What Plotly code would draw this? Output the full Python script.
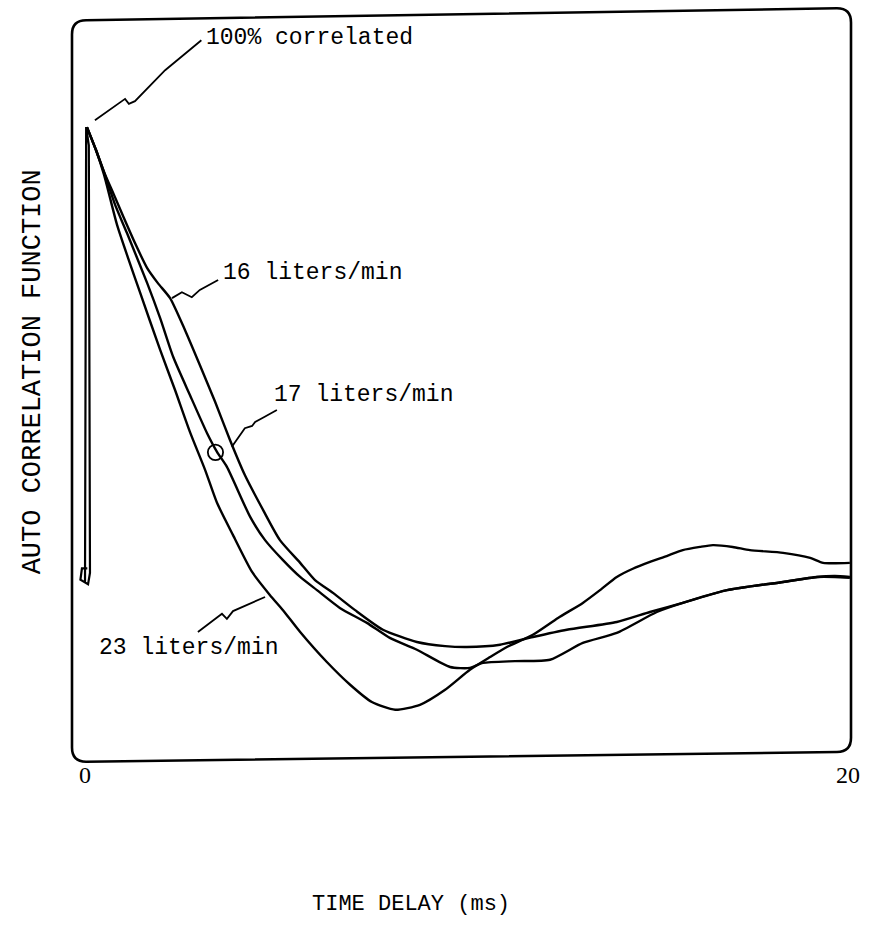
import plotly.graph_objects as go

# ---- data (time delay in ms, normalized autocorrelation) ----
x_100 = [0.0, 0.03, 0.10, 0.13, 0.08, -0.12, -0.08, 0.06]
y_100 = [0.0, 1.0, 0.96, 0.02, -0.005, 0.005, 0.03, 0.03]

x_16 = [0.05, 0.29, 0.50, 0.76, 1.02, 1.31, 1.63, 1.91, 2.23, 2.62, 3.01, 3.41, 3.80, 4.19,
        4.67, 5.11, 5.64, 6.03, 6.50, 7.08, 7.81, 8.70, 9.44, 10.01, 10.88, 11.74, 12.63,
        13.94, 14.81, 15.67, 16.83, 18.30, 19.19, 19.66, 20.05]
y_16 = [1.0, 0.949, 0.901, 0.851, 0.800, 0.745, 0.690, 0.657, 0.624, 0.554, 0.477, 0.396,
        0.312, 0.235, 0.158, 0.092, 0.042, 0.004, -0.024, -0.062, -0.105, -0.132, -0.141,
        -0.143, -0.138, -0.121, -0.105, -0.088, -0.066, -0.046, -0.018, 0.0, 0.011, 0.013, 0.011]

x_17 = [0.05, 0.29, 0.50, 0.79, 1.10, 1.63, 1.97, 2.31, 2.75, 3.20, 3.46, 3.72, 4.33, 4.72,
        5.19, 5.64, 6.08, 6.68, 7.39, 7.99, 8.70, 9.57, 10.09, 10.43, 11.27, 12.19, 13.05,
        13.94, 14.99, 15.67, 16.83, 18.30, 19.19, 19.66, 20.05]
y_17 = [1.0, 0.949, 0.901, 0.829, 0.767, 0.657, 0.580, 0.495, 0.411, 0.327, 0.286, 0.253,
        0.143, 0.092, 0.048, 0.011, -0.018, -0.057, -0.090, -0.123, -0.149, -0.187, -0.189,
        -0.178, -0.174, -0.171, -0.134, -0.112, -0.066, -0.046, -0.018, 0.0, 0.011, 0.011, 0.009]

x_23 = [0.05, 0.29, 0.50, 0.84, 1.13, 1.44, 1.97, 2.36, 2.75, 3.15, 3.46, 3.88, 4.38, 4.85,
        5.19, 5.64, 6.34, 6.95, 7.52, 8.13, 8.78, 9.44, 10.09, 10.62, 11.06, 11.74, 12.40,
        13.05, 13.50, 13.94, 14.36, 14.81, 15.25, 15.67, 16.12, 16.46, 16.98, 17.43, 18.30,
        19.01, 19.35, 20.05]
y_23 = [1.0, 0.949, 0.895, 0.785, 0.712, 0.637, 0.510, 0.422, 0.330, 0.246, 0.174, 0.103,
        0.022, -0.029, -0.062, -0.110, -0.176, -0.226, -0.264, -0.281, -0.270, -0.237, -0.193,
        -0.165, -0.143, -0.116, -0.079, -0.046, -0.018, 0.011, 0.029, 0.044, 0.057, 0.070,
        0.077, 0.081, 0.077, 0.070, 0.064, 0.053, 0.042, 0.042]

x_ticks = [0, 20]
x_tick_text = ["0", "20"]

labels = ["100% correlated", "16 liters/min", "17 liters/min", "23 liters/min"]
label_x = [3.12, 3.56, 4.90, 0.31]
label_y = [1.195, 0.679, 0.411, -0.145]

# leader lines (label -> curve)
lead_100_x = [0.26, 1.05, 1.15, 1.31, 2.10, 3.05]
lead_100_y = [1.015, 1.062, 1.051, 1.057, 1.125, 1.191]
lead_16_x = [2.28, 2.54, 2.80, 3.01, 3.49]
lead_16_y = [0.624, 0.637, 0.626, 0.642, 0.664]
lead_17_x = [3.85, 4.19, 4.38, 4.46, 4.64, 5.03]
lead_17_y = [0.297, 0.338, 0.343, 0.352, 0.360, 0.378]
lead_23_x = [2.96, 3.59, 3.72, 3.88, 4.72]
lead_23_y = [-0.110, -0.070, -0.081, -0.064, -0.033]

FONT = "Liberation Mono"

fig = go.Figure()
fig.add_trace(go.Scatter(x=x_100, y=y_100, mode="lines", line=dict(color="black", width=2.2),
                         showlegend=False, hoverinfo="skip"))
for xs, ys in [(x_16, y_16), (x_17, y_17), (x_23, y_23)]:
    fig.add_trace(go.Scatter(x=xs, y=ys, mode="lines",
                             line=dict(color="black", width=2.4, shape="spline", smoothing=0.6),
                             showlegend=False, hoverinfo="skip"))
for xs, ys in [(lead_100_x, lead_100_y), (lead_16_x, lead_16_y), (lead_17_x, lead_17_y), (lead_23_x, lead_23_y)]:
    fig.add_trace(go.Scatter(x=xs, y=ys, mode="lines", line=dict(color="black", width=1.8),
                             showlegend=False, hoverinfo="skip"))

for t, lx, ly in zip(labels, label_x, label_y):
    fig.add_annotation(x=lx, y=ly, text=t, showarrow=False, xanchor="left", yanchor="middle",
                       font=dict(family=FONT, size=23, color="black"))

# small loop on the 17 l/min curve
fig.add_shape(type="circle", xref="x", yref="y", x0=3.22, x1=3.62, y0=0.268, y1=0.302,
              line=dict(color="black", width=1.8))

# rounded, slightly skewed frame (as in the scanned original)
rx, ry = 0.018, 0.019
tl, tr, br, bl = 0.989, 1.005, 0.008, -0.005
path = (f"M {rx},{tl} L {1-rx},{tr} Q 1,{tr} 1,{tr-ry} L 1,{br+ry} Q 1,{br} {1-rx},{br} "
        f"L {rx},{bl} Q 0,{bl} 0,{bl+ry} L 0,{tl-ry} Q 0,{tl} {rx},{tl} Z")
fig.add_shape(type="path", xref="paper", yref="paper", path=path,
              line=dict(color="black", width=2.6))

fig.add_annotation(xref="paper", yref="paper", x=-0.050, y=0.517, xanchor="center", yanchor="middle",
                   text="AUTO CORRELATION FUNCTION", textangle=-90, showarrow=False,
                   font=dict(family=FONT, size=27, color="black"))
fig.add_annotation(xref="paper", yref="paper", x=0.435, y=-0.197, xanchor="center", yanchor="middle",
                   text="TIME DELAY (ms)", showarrow=False,
                   font=dict(family=FONT, size=22, color="black"))

fig.update_xaxes(range=[-0.341, 20.08], tickvals=x_ticks, ticktext=x_tick_text, showgrid=False,
                 zeroline=False, showline=False, ticks="",
                 tickfont=dict(family="Liberation Serif", size=24, color="black"))
fig.update_yaxes(range=[-0.387, 1.253], showticklabels=False, showgrid=False, zeroline=False,
                 showline=False, ticks="")

fig.update_layout(width=875, height=947, margin=dict(l=72, r=24, t=12, b=189),
                  plot_bgcolor="white", paper_bgcolor="white", showlegend=False)

fig.write_html("out.html")
